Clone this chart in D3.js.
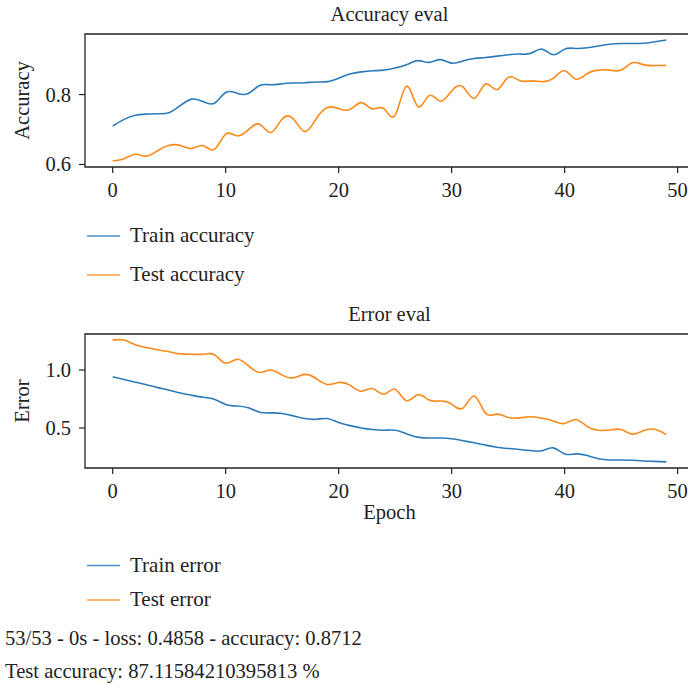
<!DOCTYPE html>
<meta charset='utf-8'>
<style>
html, body {
  margin: 0;
  padding: 0;
  background: #fff;
  overflow: hidden;
}
svg {
  display: block;
}
svg text {
  font-family: 'Liberation Serif', serif;
  fill: #222;
}
.frame {
  fill: none;
  stroke: #222;
  stroke-width: 1.3;
}
.line {
  fill: none;
  stroke-width: 1.6;
}
</style>
<body>
<div id='chart'></div>
<script src='https://d3js.org/d3.v7.min.js'></script>
<script>

// epochs 0..49
var epochs = d3.range(50);

var trainAcc = [0.710, 0.729, 0.741, 0.744, 0.745, 0.748, 0.769, 0.787, 0.780, 0.775,
  0.806, 0.804, 0.803, 0.826, 0.828, 0.831, 0.833, 0.834, 0.836, 0.837,
  0.847, 0.859, 0.865, 0.868, 0.870, 0.876, 0.885, 0.897, 0.892, 0.900,
  0.890, 0.896, 0.903, 0.906, 0.910, 0.914, 0.916, 0.918, 0.930, 0.914,
  0.930, 0.932, 0.934, 0.939, 0.944, 0.946, 0.946, 0.947, 0.951, 0.956];

var testAcc = [0.610, 0.616, 0.629, 0.624, 0.640, 0.655, 0.654, 0.646, 0.654, 0.643,
  0.687, 0.682, 0.699, 0.715, 0.691, 0.730, 0.730, 0.694, 0.730, 0.763,
  0.760, 0.757, 0.777, 0.759, 0.760, 0.741, 0.824, 0.766, 0.797, 0.781,
  0.810, 0.822, 0.789, 0.830, 0.814, 0.849, 0.840, 0.839, 0.837, 0.847,
  0.868, 0.844, 0.860, 0.870, 0.870, 0.870, 0.891, 0.885, 0.883, 0.883];

var trainErr = [0.942, 0.918, 0.895, 0.872, 0.848, 0.826, 0.802, 0.782, 0.765, 0.747,
  0.703, 0.689, 0.674, 0.636, 0.630, 0.625, 0.604, 0.581, 0.575, 0.581,
  0.547, 0.520, 0.500, 0.486, 0.480, 0.480, 0.451, 0.421, 0.413, 0.413,
  0.407, 0.390, 0.372, 0.352, 0.334, 0.323, 0.314, 0.305, 0.303, 0.328,
  0.276, 0.276, 0.262, 0.235, 0.224, 0.224, 0.221, 0.215, 0.212, 0.207];

var testErr = [1.258, 1.258, 1.218, 1.194, 1.174, 1.157, 1.139, 1.136, 1.136, 1.131,
  1.058, 1.092, 1.037, 0.979, 1.000, 0.956, 0.933, 0.962, 0.927, 0.875,
  0.892, 0.869, 0.817, 0.840, 0.791, 0.834, 0.735, 0.787, 0.741, 0.732,
  0.706, 0.671, 0.776, 0.628, 0.619, 0.590, 0.587, 0.596, 0.584, 0.561,
  0.538, 0.573, 0.512, 0.480, 0.482, 0.486, 0.447, 0.477, 0.488, 0.442];

var xTicks = [0, 10, 20, 30, 40, 50];
var accTicks = [0.6, 0.8];
var errTicks = [0.5, 1.0];

var blue = '#2b7bba',
    orange = '#fb8a1a';

var svg = d3.select('#chart').append('svg')
    .attr('width', 688)
    .attr('height', 684);

// matplotlib style 5% padding
function padded(arr) {
  var e = d3.extent(arr);
  var m = (e[1] - e[0]) * 0.05;
  return [e[0] - m, e[1] + m];
}

var x = d3.scaleLinear().domain(padded(epochs)).range([85, 694]);

function panel(top, bottom, title, ylabel, yTicks, fmt, s1, s2, xlabel) {
  var y = d3.scaleLinear().domain(padded(s1.concat(s2))).range([bottom, top]);
  var g = svg.append('g');
  var l = x.range()[0], r = x.range()[1];

  // frame: right side falls outside the page
  g.append('path').attr('class', 'frame')
    .attr('d', 'M' + r + ',' + top + 'H' + l + 'V' + bottom + 'H' + r);

  // ticks
  g.selectAll('.xt').data(xTicks).enter().append('line')
    .attr('x1', function(d){ return x(d); }).attr('x2', function(d){ return x(d); })
    .attr('y1', bottom).attr('y2', bottom + 6)
    .attr('stroke', '#222').attr('stroke-width', 1.2);
  g.selectAll('.xl').data(xTicks).enter().append('text')
    .attr('x', function(d){ return x(d); }).attr('y', bottom + 30)
    .attr('text-anchor', 'middle').attr('font-size', 20.5)
    .text(function(d){ return d; });

  g.selectAll('.yt').data(yTicks).enter().append('line')
    .attr('x1', 85).attr('x2', 79)
    .attr('y1', function(d){ return y(d); }).attr('y2', function(d){ return y(d); })
    .attr('stroke', '#222').attr('stroke-width', 1.2);
  g.selectAll('.yl').data(yTicks).enter().append('text')
    .attr('x', 71).attr('y', function(d){ return y(d) + 7; })
    .attr('text-anchor', 'end').attr('font-size', 20.5)
    .text(function(d){ return d3.format(fmt)(d); });

  g.append('text')
    .attr('x', (l + r) / 2).attr('y', top - 13)
    .attr('text-anchor', 'middle').attr('font-size', 20.5)
    .text(title);

  g.append('text')
    .attr('transform', 'translate(29,' + ((top + bottom) / 2) + ') rotate(-90)')
    .attr('text-anchor', 'middle').attr('font-size', 20.5)
    .text(ylabel);

  if (xlabel) {
    g.append('text')
      .attr('x', (l + r) / 2).attr('y', bottom + 51)
      .attr('text-anchor', 'middle').attr('font-size', 20.5)
      .text(xlabel);
  }

  var line = d3.line()
    .x(function(d, i){ return x(epochs[i]); })
    .y(function(d){ return y(d); })
    .curve(d3.curveNatural);

  g.append('path').attr('class', 'line').attr('stroke', blue).attr('d', line(s1));
  g.append('path').attr('class', 'line').attr('stroke', orange).attr('d', line(s2));
}

panel(34, 167, 'Accuracy eval', 'Accuracy', accTicks, '.1f', trainAcc, testAcc);
panel(334, 468, 'Error eval', 'Error', errTicks, '.1f', trainErr, testErr, 'Epoch');

function legend(items, y0, gap) {
  items.forEach(function(it, i) {
    var yy = y0 + i * gap;
    svg.append('line')
      .attr('x1', 87).attr('x2', 120).attr('y1', yy).attr('y2', yy)
      .attr('stroke', it[1]).attr('stroke-width', 1.6).attr('opacity', 0.85);
    svg.append('text')
      .attr('x', 130).attr('y', yy + 6).attr('font-size', 21)
      .text(it[0]);
  });
}

legend([['Train accuracy', blue], ['Test accuracy', orange]], 236, 39);
legend([['Train error', blue], ['Test error', orange]], 565.5, 34.5);

svg.append('text').attr('x', 5).attr('y', 645).attr('font-size', 20.6)
  .text('53/53 - 0s - loss: 0.4858 - accuracy: 0.8712');
svg.append('text').attr('x', 5).attr('y', 678).attr('font-size', 20.6)
  .text('Test accuracy: 87.11584210395813 %');

</script>
</body>
